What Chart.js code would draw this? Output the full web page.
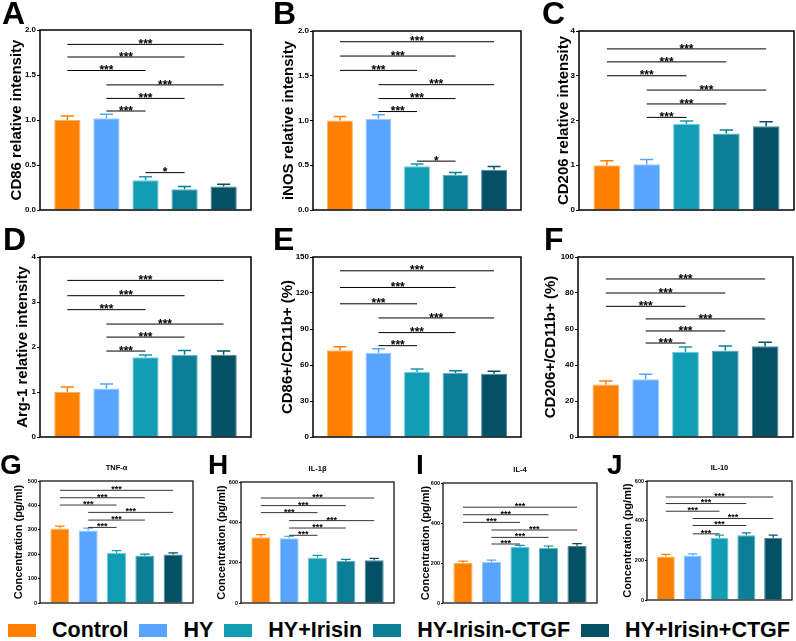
<!DOCTYPE html>
<html>
<head>
<meta charset="utf-8">
<script src="https://cdn.jsdelivr.net/npm/chart.js@4.4.1/dist/chart.umd.min.js"></script>
<style>
  html, body { margin: 0; padding: 0; background: #fff; }
  body { width: 796px; height: 641px; position: relative; overflow: hidden; font-family: "Liberation Sans", Arial, sans-serif; }
  canvas { position: absolute; }
  .letter { position: absolute; font-weight: bold; line-height: 1; color: #000; }
  #legend { position: absolute; left: 8px; top: 620px; white-space: nowrap; font-weight: bold; font-size: 21.5px; line-height: 1; color: #000; }
  #legend .sw { display: inline-block; width: 28px; height: 13px; margin-right: 16px; }
  #legend .it { margin-right: 11px; }
</style>
</head>
<body>
<div id="legend"></div>
<script>
const FONT = '"Liberation Sans", Arial, sans-serif';

const groups = ["Control", "HY", "HY+Irisin", "HY-Irisin-CTGF", "HY+Irisin+CTGF"];
const barColors = ["#FF8000", "#58A5FF", "#139DB5", "#0A7F96", "#045166"];
const edgeColors = ["#FFB366", "#9CCAFF", "#6FCBDB", "#5FB3C4", "#4D8A99"];
const xPos = [0, 1, 2, 3, 4];

// comparison pairs (bar index pairs) and star labels
const pairs6 = [[0, 4], [0, 3], [0, 2], [1, 4], [1, 3], [1, 2]];
const pairs7 = pairs6.concat([[2, 3]]);
const stars6 = ["***", "***", "***", "***", "***", "***"];
const stars7 = stars6.concat(["*"]);

// A - CD86
const cd86 = [1.00, 1.02, 0.33, 0.23, 0.26];
const cd86Err = [0.045, 0.045, 0.04, 0.03, 0.025];
const cd86Sig = [1.84, 1.70, 1.55, 1.39, 1.24, 1.10, 0.415];
// B - iNOS
const inos = [1.00, 1.02, 0.49, 0.39, 0.45];
const inosErr = [0.045, 0.045, 0.025, 0.03, 0.035];
const inosSig = [1.88, 1.72, 1.56, 1.40, 1.245, 1.10, 0.546];
// C - CD206
const cd206 = [1.00, 1.02, 1.93, 1.71, 1.87];
const cd206Err = [0.10, 0.11, 0.06, 0.08, 0.10];
const cd206Sig = [3.60, 3.31, 3.00, 2.68, 2.37, 2.07];
// D - Arg-1
const arg1 = [1.00, 1.08, 1.77, 1.83, 1.83];
const arg1Err = [0.11, 0.10, 0.05, 0.09, 0.08];
const arg1Sig = [3.48, 3.14, 2.83, 2.51, 2.22, 1.91];
// E - CD86+/CD11b+
const m1Pct = [72.2, 70.2, 54.1, 53.3, 52.7];
const m1PctErr = [3.1, 3.4, 2.5, 1.9, 2.0];
const m1PctSig = [138.5, 124.6, 111, 99.2, 87, 76.1];
// F - CD206+/CD11b+
const m2Pct = [29.1, 32.1, 47.2, 48.0, 50.4];
const m2PctErr = [2.0, 2.8, 2.8, 2.6, 2.2];
const m2PctSig = [87.8, 80, 72.6, 65.6, 58.9, 52.2];
// G - TNF-α
const tnf = [305.6, 297.4, 205.4, 194.7, 198.8];
const tnfErr = [9.4, 9.6, 9.6, 5.3, 6.6];
const tnfSig = [461.8, 431.4, 401.4, 371.4, 339.8, 309.8];
// H - IL-1β
const il1b = [325.7, 320.8, 225, 208.2, 211.7];
const il1bErr = [13.3, 9.9, 11.5, 8.5, 9.9];
const il1bSig = [520.6, 482.9, 448.2, 408.5, 371.8, 335.6];
// I - IL-4
const il4 = [200.5, 205.5, 280, 275, 285];
const il4Err = [8.5, 8.5, 8.6, 10, 11.5];
const il4Sig = [479, 441.3, 403, 365, 328, 295];
// J - IL-10
const il10 = [219.7, 224.7, 313.2, 326.8, 313.2];
const il10Err = [10.1, 8.1, 13.6, 11.6, 13.6];
const il10Sig = [519.4, 486.3, 447.6, 410.9, 375.7, 333.5];

const big = { titleFont: 15, tickFont: 8, starFont: 12, frame: 1.5, errW: 1.5, sigW: 1, tickLen: 3, padT: 6, padB: 6, padR: 3, letter: 32 };
const small = { titleFont: 11, tickFont: 5.5, starFont: 9, frame: 1.2, errW: 1.2, sigW: 0.8, tickLen: 2, padT: 22, padB: 5, padR: 3, letter: 28 };

const panels = [
  { id: "A", yTitle: "CD86 relative intensity", mean: cd86, err: cd86Err, sig: cd86Sig, pairs: pairs7, stars: stars7, max: 2, step: 0.5, dec: 1, box: [40, 30, 251, 210], tPad: 7.5, st: big, lx: 2, lb: 24 },
  { id: "B", yTitle: "iNOS relative intensity", mean: inos, err: inosErr, sig: inosSig, pairs: pairs7, stars: stars7, max: 2, step: 0.5, dec: 1, box: [313, 31, 521, 210], tPad: 7, st: big, lx: 273, lb: 24 },
  { id: "C", yTitle: "CD206 relative intensity", mean: cd206, err: cd206Err, sig: cd206Sig, pairs: pairs6, stars: stars6, max: 4, step: 1, dec: 0, box: [579, 31, 794, 210], tPad: 15.5, st: big, lx: 542, lb: 24 },
  { id: "D", yTitle: "Arg-1 relative intensity", mean: arg1, err: arg1Err, sig: arg1Sig, pairs: pairs6, stars: stars6, max: 4, step: 1, dec: 0, box: [40, 257, 251, 437], tPad: 14, st: big, lx: 3, lb: 250 },
  { id: "E", yTitle: "CD86+/CD11b+ (%)", mean: m1Pct, err: m1PctErr, sig: m1PctSig, pairs: pairs6, stars: stars6, max: 150, step: 30, dec: 0, box: [313, 257, 521, 437], tPad: 5.5, st: big, lx: 273, lb: 250 },
  { id: "F", yTitle: "CD206+/CD11b+ (%)", mean: m2Pct, err: m2PctErr, sig: m2PctSig, pairs: pairs6, stars: stars6, max: 100, step: 20, dec: 0, box: [578, 257, 793, 437], tPad: 4, st: big, lx: 544, lb: 250 },
  { id: "G", head: "TNF-α", yTitle: "Concentration (pg/ml)", mean: tnf, err: tnfErr, sig: tnfSig, pairs: pairs6, stars: stars6, max: 500, step: 100, dec: 0, box: [40, 481, 193, 603], tPad: 11.9, st: small, lx: 0, lb: 475 },
  { id: "H", head: "IL-1β", yTitle: "Concentration (pg/ml)", mean: il1b, err: il1bErr, sig: il1bSig, pairs: pairs6, stars: stars6, max: 600, step: 200, dec: 0, box: [241, 482, 394, 603], tPad: 14.4, st: small, lx: 208, lb: 475 },
  { id: "I", head: "IL-4", yTitle: "Concentration (pg/ml)", mean: il4, err: il4Err, sig: il4Sig, pairs: pairs6, stars: stars6, max: 600, step: 200, dec: 0, box: [443, 483, 597, 603], tPad: 16.4, st: small, lx: 416, lb: 475 },
  { id: "J", head: "IL-10", yTitle: "Concentration (pg/ml)", mean: il10, err: il10Err, sig: il10Sig, pairs: pairs6, stars: stars6, max: 600, step: 200, dec: 0, box: [647, 481, 792, 600], tPad: 14.4, st: small, lx: 607, lb: 475 }
];

// error bars, significance brackets, frame and small headings
function annotations(p) {
  const st = p.st;
  return {
    id: "annot" + p.id,
    afterDatasetsDraw(chart) {
      const { ctx, chartArea: a, scales: { x, y } } = chart;
      const bars = chart.getDatasetMeta(0).data;
      ctx.save();
      ctx.lineWidth = st.errW;
      p.mean.forEach((m, i) => {
        const cx = x.getPixelForValue(xPos[i]);
        const y0 = y.getPixelForValue(m);
        const y1 = y.getPixelForValue(m + p.err[i]);
        const hw = bars[i].width * 0.25;
        ctx.strokeStyle = barColors[i];
        ctx.beginPath();
        ctx.moveTo(cx, y0); ctx.lineTo(cx, y1);
        ctx.moveTo(cx - hw, y1); ctx.lineTo(cx + hw, y1);
        ctx.stroke();
      });

      ctx.strokeStyle = "#000";
      ctx.fillStyle = "#000";
      ctx.lineWidth = st.sigW;
      ctx.font = `bold ${st.starFont}px ${FONT}`;
      ctx.textAlign = "center";
      ctx.textBaseline = "alphabetic";
      p.pairs.forEach(([i, j], k) => {
        const x0 = x.getPixelForValue(xPos[i]);
        const x1 = x.getPixelForValue(xPos[j]);
        const yy = y.getPixelForValue(p.sig[k]);
        ctx.beginPath();
        ctx.moveTo(x0, yy); ctx.lineTo(x1, yy);
        ctx.stroke();
        ctx.fillText(p.stars[k], (x0 + x1) / 2, yy + 0.58 * st.starFont - 3.3);
      });

      ctx.lineWidth = st.frame;
      ctx.strokeRect(a.left, a.top, a.right - a.left, a.bottom - a.top);

      if (p.head) {
        ctx.font = `bold 7.5px ${FONT}`;
        ctx.textBaseline = "middle";
        ctx.fillText(p.head, (a.left + a.right) / 2, a.top - 13);
      }
      ctx.restore();
    }
  };
}

panels.forEach(p => {
  const st = p.st;
  const [L, T, R, B] = p.box;
  const axisW = 40;
  const w = axisW + (R - L) + st.padR;
  const h = (B - T) + st.padT + st.padB;
  const cv = document.createElement("canvas");
  cv.width = w; cv.height = h;
  cv.style.left = (L - axisW) + "px";
  cv.style.top = (T - st.padT) + "px";
  cv.style.width = w + "px";
  cv.style.height = h + "px";
  document.body.appendChild(cv);

  const letter = document.createElement("div");
  letter.className = "letter";
  letter.textContent = p.id;
  letter.style.fontSize = st.letter + "px";
  letter.style.left = p.lx + "px";
  letter.style.top = (p.lb - 0.8465 * st.letter) + "px";
  document.body.appendChild(letter);

  new Chart(cv, {
    type: "bar",
    data: {
      datasets: [{
        data: xPos.map((xv, i) => ({ x: xv, y: p.mean[i] })),
        backgroundColor: barColors,
        borderColor: edgeColors,
        borderWidth: 1,
        categoryPercentage: 0.8,
        barPercentage: 0.84
      }]
    },
    options: {
      responsive: false,
      animation: false,
      layout: { padding: { left: 0, right: st.padR, top: st.padT, bottom: st.padB } },
      plugins: { legend: { display: false }, tooltip: { enabled: false } },
      scales: {
        x: {
          type: "linear",
          min: -0.7,
          max: 4.7,
          offset: false,
          grid: { offset: false },
          display: false,
          afterBuildTicks: s => { s.ticks = xPos.map(v => ({ value: v })); }
        },
        y: {
          min: 0,
          max: p.max,
          afterFit: s => { s.width = axisW; },
          border: { display: false },
          grid: { display: true, drawOnChartArea: false, drawTicks: true, tickLength: st.tickLen, color: "#000", lineWidth: 1 },
          ticks: {
            stepSize: p.step,
            padding: 1,
            color: "#000",
            font: { size: st.tickFont, weight: "bold", family: FONT },
            callback: v => v.toFixed(p.dec)
          },
          title: {
            display: true,
            text: p.yTitle,
            color: "#000",
            font: { size: st.titleFont, weight: "bold", family: FONT },
            padding: { top: p.tPad, bottom: 0 }
          }
        }
      }
    },
    plugins: [annotations(p)]
  });
});

const legend = document.getElementById("legend");
groups.forEach((g, i) => {
  const sw = document.createElement("span");
  sw.className = "sw";
  sw.style.background = barColors[i];
  const tx = document.createElement("span");
  tx.className = "it";
  tx.textContent = g;
  legend.appendChild(sw);
  legend.appendChild(tx);
});
</script>
</body>
</html>
